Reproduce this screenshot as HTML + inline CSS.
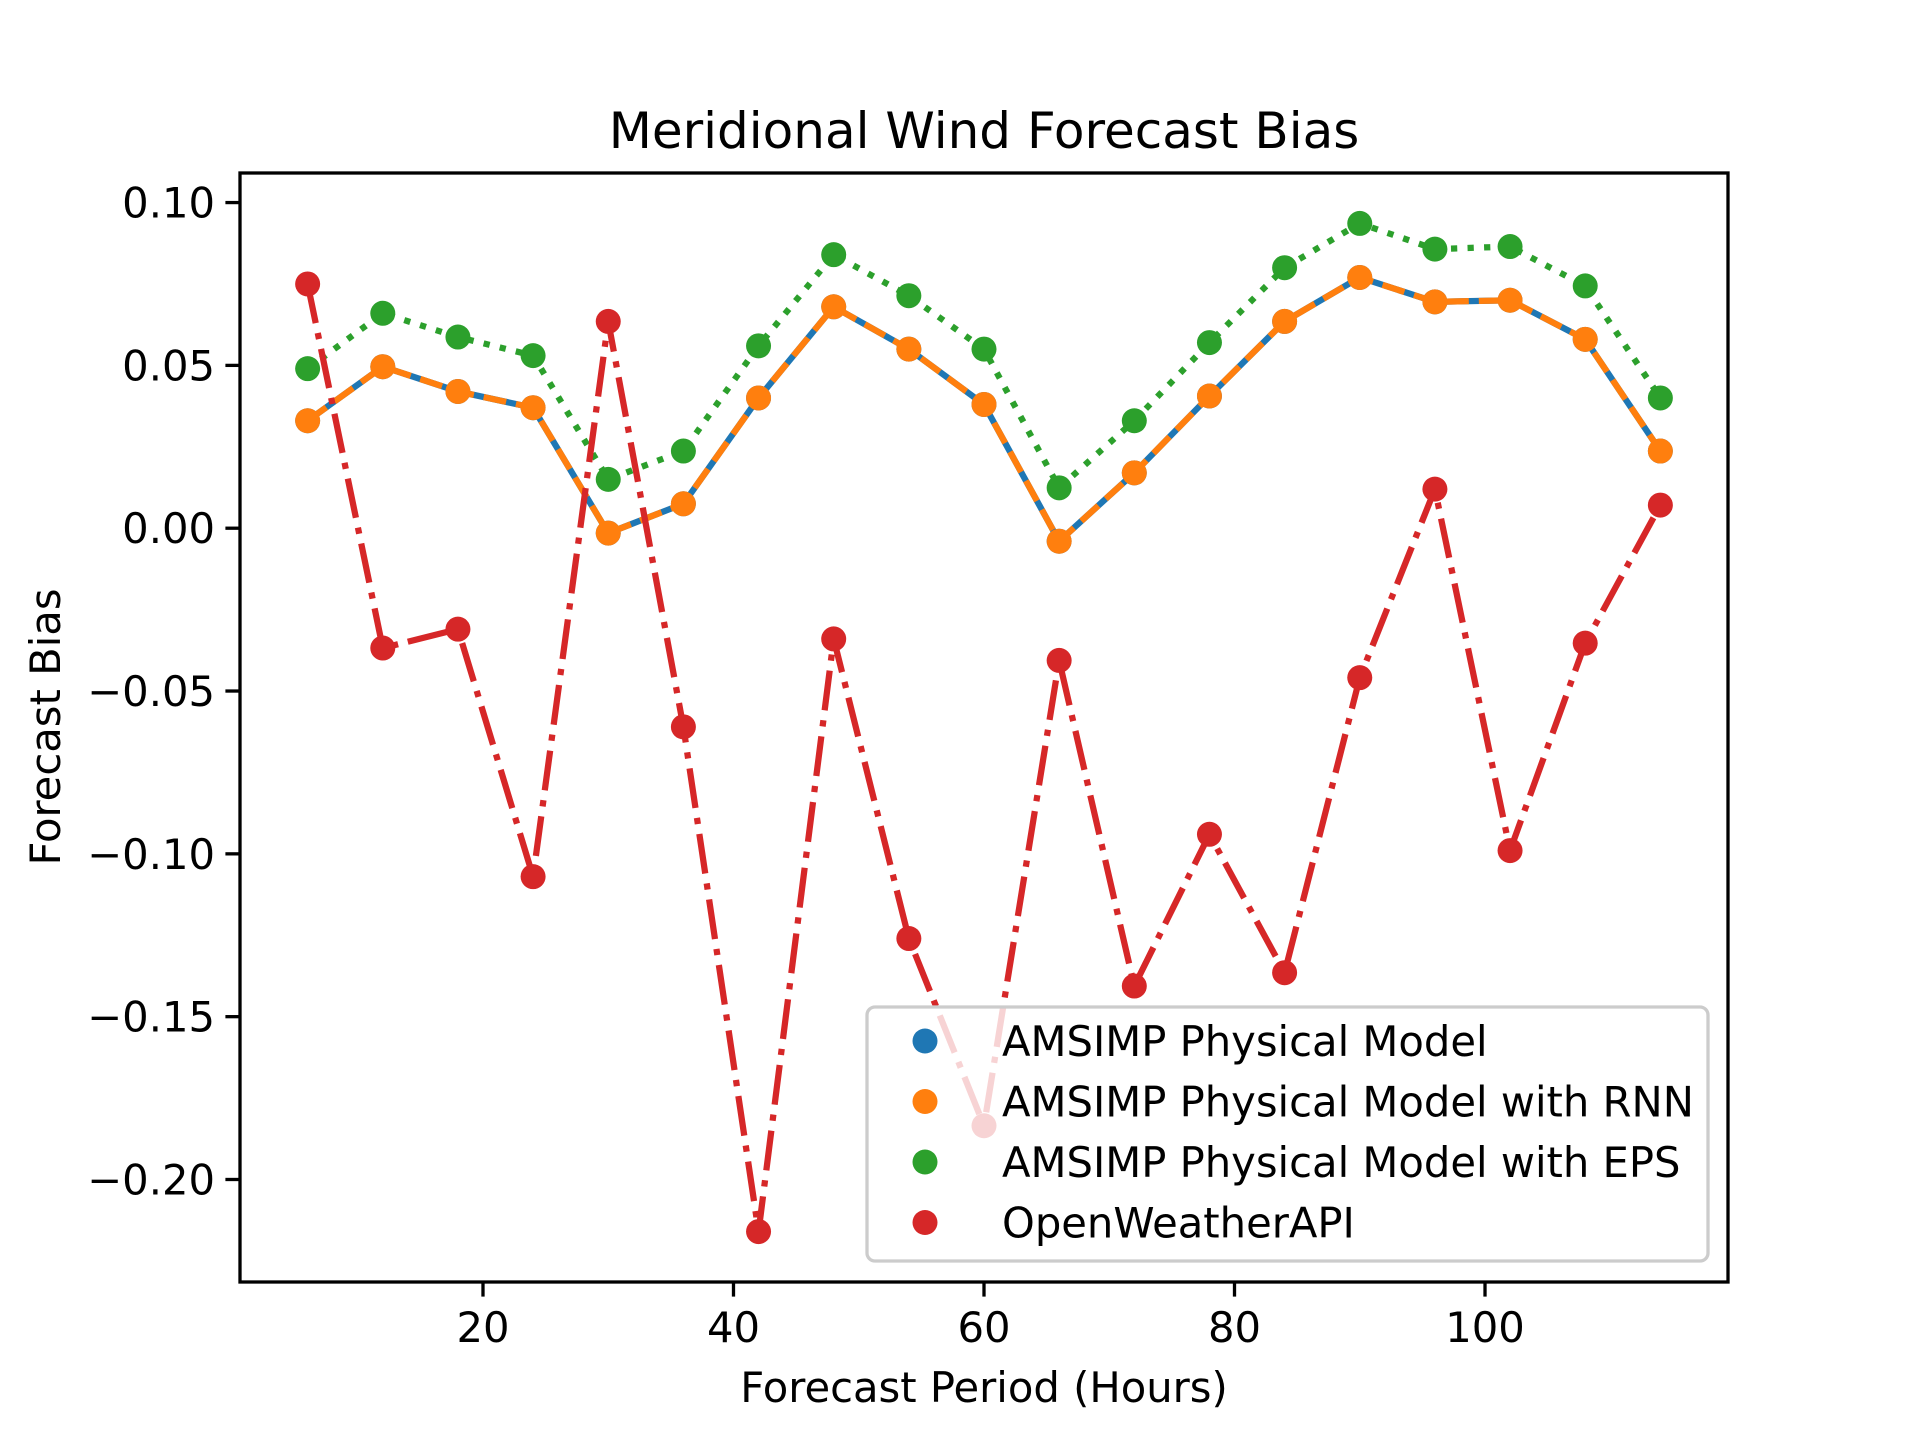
<!DOCTYPE html>
<html><head><meta charset="utf-8"><style>
body{margin:0;background:#fff}
svg{display:block;font-family:"DejaVu Sans","Liberation Sans",sans-serif}
</style></head><body>
<svg id="chart" width="1920" height="1440" viewBox="0 0 1920 1440" xmlns="http://www.w3.org/2000/svg">
<rect width="1920" height="1440" fill="#fff"/>
<text x="984" y="148" font-size="50" text-anchor="middle">Meridional Wind Forecast Bias</text>
<text x="984" y="1402" font-size="41.7" text-anchor="middle">Forecast Period (Hours)</text>
<text transform="translate(60,727) rotate(-90)" font-size="41.7" text-anchor="middle">Forecast Bias</text>
<g id="ticks"></g>
<g id="plot"></g>
<rect x="240" y="173" width="1488" height="1109" fill="none" stroke="#000" stroke-width="3.3"/>
<g id="legend"></g>
</svg>
<script>
const hours=[6,12,18,24,30,36,42,48,54,60,66,72,78,84,90,96,102,108,114];
const physical=[0.033,0.0496,0.042,0.037,-0.0015,0.0075,0.040,0.068,0.055,0.038,-0.004,0.017,0.0406,0.0635,0.077,0.0695,0.070,0.058,0.0237];
const rnn=[0.033,0.0496,0.042,0.037,-0.0015,0.0075,0.040,0.068,0.055,0.038,-0.004,0.017,0.0406,0.0635,0.077,0.0695,0.070,0.058,0.0237];
const eps=[0.049,0.066,0.0587,0.053,0.015,0.0237,0.056,0.084,0.0714,0.055,0.0124,0.033,0.057,0.080,0.0936,0.0857,0.0865,0.0744,0.040];
const owm=[0.075,-0.0368,-0.031,-0.107,0.0635,-0.061,-0.216,-0.034,-0.126,-0.1835,-0.0406,-0.1406,-0.094,-0.1365,-0.0459,0.012,-0.099,-0.0353,0.0071];
const xTicks=[20,40,60,80,100];
const yTicks=[0.10,0.05,0.00,-0.05,-0.10,-0.15,-0.20];
const yTickLabels=["0.10","0.05","0.00","\u22120.05","\u22120.10","\u22120.15","\u22120.20"];
const seriesNames=["AMSIMP Physical Model","AMSIMP Physical Model with RNN","AMSIMP Physical Model with EPS","OpenWeatherAPI"];

const NS="http://www.w3.org/2000/svg";
const L=240,R=1728,T=173,B=1282;
const xmin=Math.min(...hours),xmax=Math.max(...hours),xm=(xmax-xmin)*0.05;
const all=physical.concat(rnn,eps,owm);
const ymin=Math.min(...all),ymax=Math.max(...all),ym=(ymax-ymin)*0.05;
const X=v=>L+(v-(xmin-xm))/((xmax+xm)-(xmin-xm))*(R-L);
const Y=v=>B-(v-(ymin-ym))/((ymax+ym)-(ymin-ym))*(B-T);
function mk(tag,attrs,parent){const e=document.createElementNS(NS,tag);for(const k in attrs)e.setAttribute(k,attrs[k]);parent.appendChild(e);return e;}
const tg=document.getElementById('ticks');
xTicks.forEach(t=>{
  const l=mk('line',{x1:X(t),x2:X(t),y1:B,y2:B+14.6,stroke:'#000','stroke-width':3.3},tg);
  
  
  const tx=mk('text',{x:X(t),y:B+60,'font-size':41.7,'text-anchor':'middle'},tg);tx.textContent=t;
  
  
});
yTicks.forEach((t,i)=>{
  const l=mk('line',{x1:L-14.6,x2:L,y1:Y(t),y2:Y(t),stroke:'#000','stroke-width':3.3},tg);
  
  
  const tx=mk('text',{x:L-25,y:Y(t)+15,'font-size':41.7,'text-anchor':'end'},tg);tx.textContent=yTickLabels[i];
  
  
});
const pg=document.getElementById('plot');
const series=[
 {d:physical,c:'#1f77b4',dash:'',n:'physical'},
 {d:rnn,c:'#ff7f0e',dash:'23,10',n:'rnn'},
 {d:eps,c:'#2ca02c',dash:'6.25,10.3',n:'eps'},
 {d:owm,c:'#d62728',dash:'40,10,6.25,10',n:'openweather'}];
series.forEach(s=>{
  const pts=hours.map((h,i)=>X(h)+','+Y(s.d[i])).join(' ');
  const pl=mk('polyline',{points:pts,fill:'none',stroke:s.c,'stroke-width':6.25,'stroke-dasharray':s.dash},pg);
  
  
  hours.forEach((h,i)=>{
    const c=mk('circle',{cx:X(h),cy:Y(s.d[i]),r:12.5,fill:s.c},pg);
    
    
  });
});
const lg=document.getElementById('legend');
const box=mk('rect',{x:867,y:1007,width:841,height:254,rx:8,fill:'#fff','fill-opacity':0.8,stroke:'#ccc','stroke-width':3.3},lg);


series.forEach((s,i)=>{
  const y=1041+i*60.5;
  const c=mk('circle',{cx:925,cy:y,r:12.5,fill:s.c},lg);
  
  
  const t=mk('text',{x:1002,y:y+15,'font-size':41.7},lg);t.textContent=seriesNames[i];
  
  
});
</script>
</body></html>
